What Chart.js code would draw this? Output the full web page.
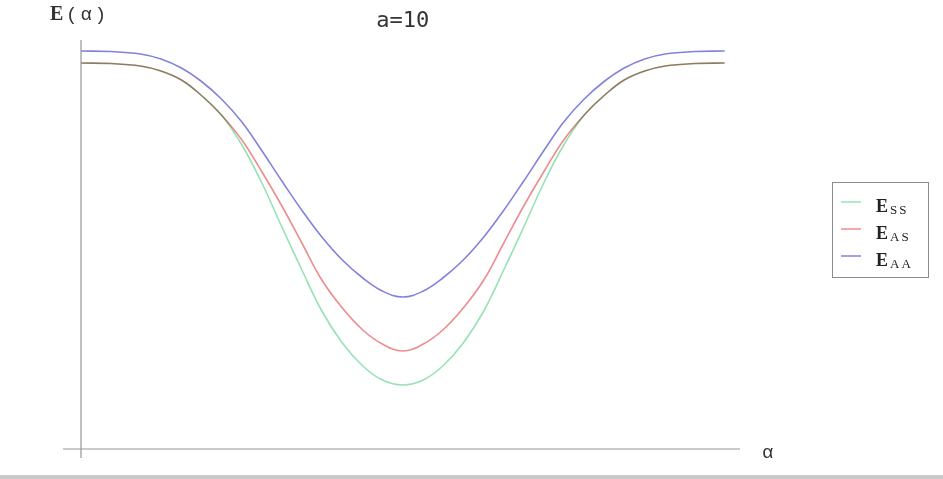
<!DOCTYPE html>
<html>
<head>
<meta charset="utf-8">
<script src="https://cdn.jsdelivr.net/npm/chart.js@4/dist/chart.umd.min.js"></script>
<style>
  html, body { margin: 0; padding: 0; background: #fff; }
  #wrap { position: relative; width: 943px; height: 479px; }
</style>
</head>
<body>
<div id="wrap"><canvas id="energyChart" width="943" height="479"></canvas></div>
<script>
// values (alpha from -pi to pi)
const alpha = [-3.14, -2.85, -2.56, -2.36, -2.16, -1.97, -1.77, -1.57, -1.38, -1.18, -0.98, -0.79, -0.59, -0.39, -0.20, 0,
  0.20, 0.39, 0.59, 0.79, 0.98, 1.18, 1.38, 1.57, 1.77, 1.97, 2.16, 2.36, 2.56, 2.85, 3.14];
const eSS = [3.86, 3.855, 3.83, 3.78, 3.69, 3.54, 3.34, 3.04, 2.67, 2.22, 1.78, 1.38, 1.06, 0.83, 0.69, 0.64,
  0.69, 0.83, 1.06, 1.38, 1.78, 2.22, 2.67, 3.04, 3.34, 3.54, 3.69, 3.78, 3.83, 3.855, 3.86];
const eAS = [3.86, 3.855, 3.83, 3.78, 3.69, 3.54, 3.34, 3.09, 2.78, 2.43, 2.05, 1.69, 1.41, 1.19, 1.05, 0.98,
  1.05, 1.19, 1.41, 1.69, 2.05, 2.43, 2.78, 3.09, 3.34, 3.54, 3.69, 3.78, 3.83, 3.855, 3.86];
const eAA = [3.98, 3.975, 3.95, 3.90, 3.81, 3.68, 3.50, 3.27, 2.99, 2.68, 2.38, 2.12, 1.89, 1.71, 1.58, 1.52,
  1.58, 1.71, 1.89, 2.12, 2.38, 2.68, 2.99, 3.27, 3.50, 3.68, 3.81, 3.90, 3.95, 3.975, 3.98];
const seriesNames = ['SS', 'AS', 'AA'];
const titleText = 'a=10';

const colors = ['rgb(150,226,180)', 'rgb(236,140,140)', 'rgb(130,130,222)'];
const axisColor = 'rgb(150,150,150)';

const toPoints = (ys) => alpha.map((a, i) => ({ x: a, y: ys[i] }));

// multiply blending so the overlapping red and green turn olive like the original
const blendPlugin = {
  id: 'blend',
  beforeDatasetDraw(chart) { chart.ctx.save(); chart.ctx.globalCompositeOperation = 'multiply'; },
  afterDatasetDraw(chart) { chart.ctx.restore(); }
};

// axes extensions, labels, title and the boxed legend
const decorPlugin = {
  id: 'decor',
  afterDraw(chart) {
    const ctx = chart.ctx;
    const xs = chart.scales.x, ys = chart.scales.y;
    const x0 = xs.getPixelForValue(xs.min);
    const y0 = ys.getPixelForValue(0);
    ctx.save();
    ctx.strokeStyle = axisColor;
    ctx.lineWidth = 1.2;
    ctx.beginPath();
    ctx.moveTo(x0, ys.getPixelForValue(ys.max)); ctx.lineTo(x0, y0 + 9);
    ctx.moveTo(x0 - 18, y0); ctx.lineTo(xs.getPixelForValue(xs.max), y0);
    ctx.stroke();

    ctx.fillStyle = '#333';
    ctx.textBaseline = 'alphabetic';
    ctx.textAlign = 'left';
    ctx.font = 'bold 20px "Liberation Serif", serif';
    ctx.fillText('E', 50, 20);
    ctx.font = '19px "Liberation Mono", monospace';
    ctx.letterSpacing = '3px';
    ctx.fillText('(α)', 66, 20);
    ctx.letterSpacing = '0px';
    ctx.fillText('α', 762, 458);

    ctx.font = '22px "DejaVu Sans Mono", monospace';
    ctx.textAlign = 'center';
    ctx.fillText(titleText, xs.getPixelForValue(0), 27);

    // legend box
    ctx.strokeStyle = 'rgb(140,140,140)';
    ctx.lineWidth = 1;
    ctx.strokeRect(832.5, 182.5, 96, 95);
    const baselines = [212, 239, 266];
    seriesNames.forEach((name, i) => {
      ctx.strokeStyle = colors[i];
      ctx.lineWidth = 1.5;
      ctx.beginPath();
      ctx.moveTo(841, baselines[i] - 10);
      ctx.lineTo(861, baselines[i] - 10);
      ctx.stroke();
      ctx.fillStyle = '#222';
      ctx.textAlign = 'left';
      ctx.font = 'bold 18px "Liberation Serif", serif';
      ctx.fillText('E', 876, baselines[i]);
      ctx.font = '13px "Liberation Serif", serif';
      ctx.letterSpacing = '2px';
      ctx.fillText(name, 890, baselines[i] + 2);
      ctx.letterSpacing = '0px';
    });

    ctx.fillStyle = 'rgb(200,200,200)';
    ctx.fillRect(0, 475, chart.width, 4);
    ctx.restore();
  }
};

new Chart(document.getElementById('energyChart'), {
  type: 'line',
  data: {
    datasets: [
      { label: 'E_SS', data: toPoints(eSS), borderColor: colors[0] },
      { label: 'E_AS', data: toPoints(eAS), borderColor: colors[1] },
      { label: 'E_AA', data: toPoints(eAA), borderColor: colors[2] }
    ]
  },
  options: {
    responsive: false,
    animation: false,
    layout: { padding: { left: 81, right: 203, top: 40, bottom: 30 } },
    elements: {
      line: { borderWidth: 1.6, tension: 0.4, fill: false },
      point: { radius: 0 }
    },
    plugins: { legend: { display: false }, tooltip: { enabled: false }, title: { display: false } },
    scales: {
      x: { type: 'linear', min: -3.14, max: 3.29, display: false },
      y: { min: 0, max: 4.09, display: false }
    }
  },
  plugins: [blendPlugin, decorPlugin]
});
</script>
</body>
</html>
